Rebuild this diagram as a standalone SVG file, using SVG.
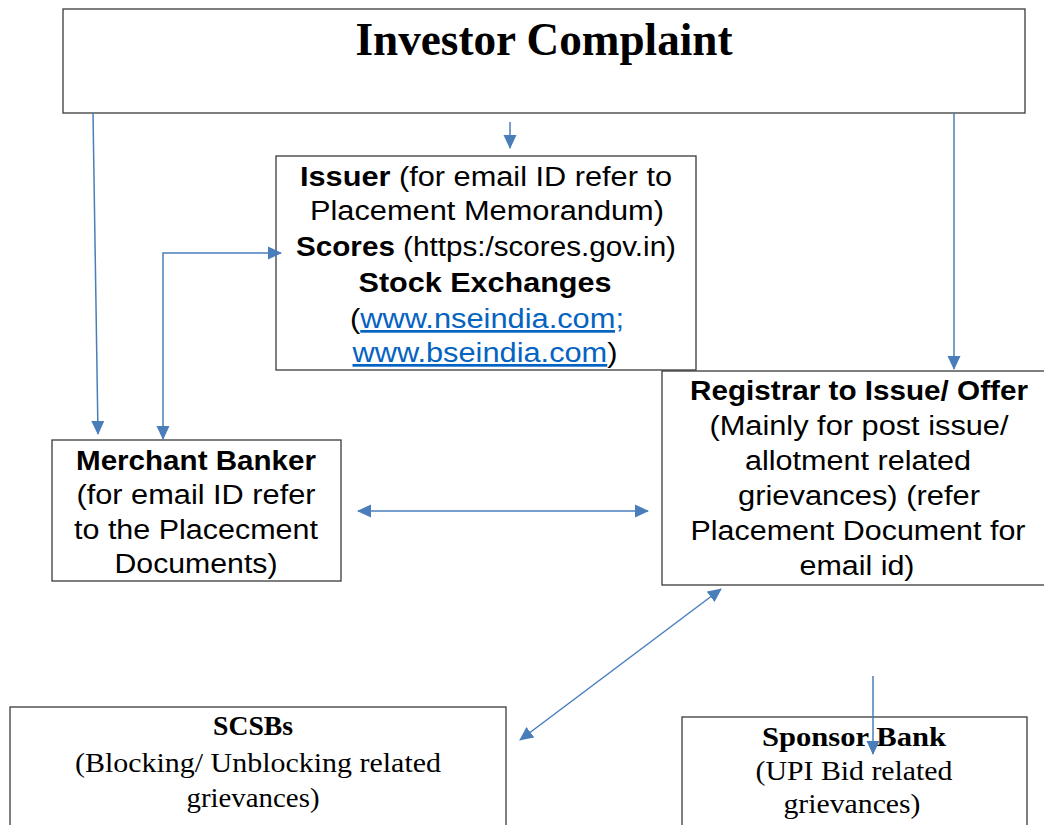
<svg xmlns="http://www.w3.org/2000/svg" width="1044" height="825" viewBox="0 0 1044 825">
<defs>
<marker id="ah" viewBox="0 0 14 14" refX="13" refY="7" markerWidth="14" markerHeight="14" markerUnits="userSpaceOnUse" orient="auto-start-reverse"><path d="M0,0.5 L14,7 L0,13.5 z" fill="#4a7ebb"/></marker>
<style>
.box{fill:#fff;stroke:#3a3a3a;stroke-width:1.3}
.con{fill:none;stroke:#4a7ebb;stroke-width:1.5}
.a{font-family:"Liberation Sans",Arial,sans-serif;font-size:27px;fill:#000;text-anchor:middle}
.t{font-family:"Liberation Serif","Times New Roman",serif;fill:#000;text-anchor:middle}
.b{font-weight:bold}
.lnk{fill:#0563c1;text-decoration:underline}
</style>
</defs>
<rect width="1044" height="825" fill="#fff"/>
<g id="investor">
<rect class="box" x="63" y="9" width="962" height="104"/>
<text class="t b" x="544" y="55" font-size="46" textLength="377" lengthAdjust="spacingAndGlyphs">Investor Complaint</text>
</g>
<g id="issuer">
<rect class="box" x="276" y="156" width="420" height="214"/>
<text class="a" x="486" y="186" textLength="372" lengthAdjust="spacingAndGlyphs"><tspan class="b">Issuer</tspan> (for email ID refer to</text>
<text class="a" x="487" y="220" textLength="354" lengthAdjust="spacingAndGlyphs">Placement Memorandum)</text>
<text class="a" x="486" y="256" textLength="380" lengthAdjust="spacingAndGlyphs"><tspan class="b">Scores</tspan> (https:/scores.gov.in)</text>
<text class="a b" x="485" y="292" textLength="253" lengthAdjust="spacingAndGlyphs">Stock Exchanges</text>
<text class="a" x="487" y="328" textLength="274" lengthAdjust="spacingAndGlyphs">(<tspan class="lnk">www.nseindia.com;</tspan></text>
<text class="a" x="485" y="362" textLength="265" lengthAdjust="spacingAndGlyphs"><tspan class="lnk">www.bseindia.com</tspan>)</text>
</g>
<g id="merchant">
<rect class="box" x="52" y="440" width="289" height="141"/>
<text class="a b" x="196" y="470" textLength="240" lengthAdjust="spacingAndGlyphs">Merchant Banker</text>
<text class="a" x="196" y="504" textLength="239" lengthAdjust="spacingAndGlyphs">(for email ID refer</text>
<text class="a" x="196" y="539" textLength="244" lengthAdjust="spacingAndGlyphs">to the Placecment</text>
<text class="a" x="196" y="573" textLength="163" lengthAdjust="spacingAndGlyphs">Documents)</text>
</g>
<g id="registrar">
<rect class="box" x="662" y="371" width="390" height="214"/>
<text class="a b" x="859" y="400" textLength="338" lengthAdjust="spacingAndGlyphs">Registrar to Issue/ Offer</text>
<text class="a" x="859" y="435" textLength="299" lengthAdjust="spacingAndGlyphs">(Mainly for post issue/</text>
<text class="a" x="858" y="470" textLength="226" lengthAdjust="spacingAndGlyphs">allotment related</text>
<text class="a" x="859" y="505" textLength="242" lengthAdjust="spacingAndGlyphs">grievances) (refer</text>
<text class="a" x="858" y="540" textLength="335" lengthAdjust="spacingAndGlyphs">Placement Document for</text>
<text class="a" x="857" y="575" textLength="115" lengthAdjust="spacingAndGlyphs">email id)</text>
</g>
<g id="scsbs">
<rect class="box" x="10" y="707" width="496" height="130"/>
<text class="t b" x="253" y="735" font-size="28" textLength="80" lengthAdjust="spacingAndGlyphs">SCSBs</text>
<text class="t" x="258" y="772" font-size="28" textLength="366" lengthAdjust="spacingAndGlyphs">(Blocking/ Unblocking related</text>
<text class="t" x="253" y="807" font-size="28" textLength="133" lengthAdjust="spacingAndGlyphs">grievances)</text>
</g>
<g id="sponsor">
<rect class="box" x="682" y="717" width="345" height="120"/>
<text class="t b" x="854" y="746" font-size="28" textLength="184" lengthAdjust="spacingAndGlyphs">Sponsor Bank</text>
<text class="t" x="854" y="780" font-size="28" textLength="197" lengthAdjust="spacingAndGlyphs">(UPI Bid related</text>
<text class="t" x="852" y="813" font-size="28" textLength="137" lengthAdjust="spacingAndGlyphs">grievances)</text>
</g>
<g id="connectors">
<line class="con" x1="93" y1="113" x2="98" y2="434" marker-end="url(#ah)"/>
<line class="con" x1="510" y1="122" x2="510" y2="148" marker-end="url(#ah)"/>
<line class="con" x1="954" y1="113" x2="954" y2="369" marker-end="url(#ah)"/>
<polyline class="con" points="163,439 163,253 281,253" marker-start="url(#ah)" marker-end="url(#ah)"/>
<line class="con" x1="358" y1="511" x2="648" y2="511" marker-start="url(#ah)" marker-end="url(#ah)"/>
<line class="con" x1="721" y1="589" x2="520" y2="740" marker-start="url(#ah)" marker-end="url(#ah)"/>
<line class="con" x1="873" y1="676" x2="873" y2="754" marker-end="url(#ah)"/>
</g>
</svg>
